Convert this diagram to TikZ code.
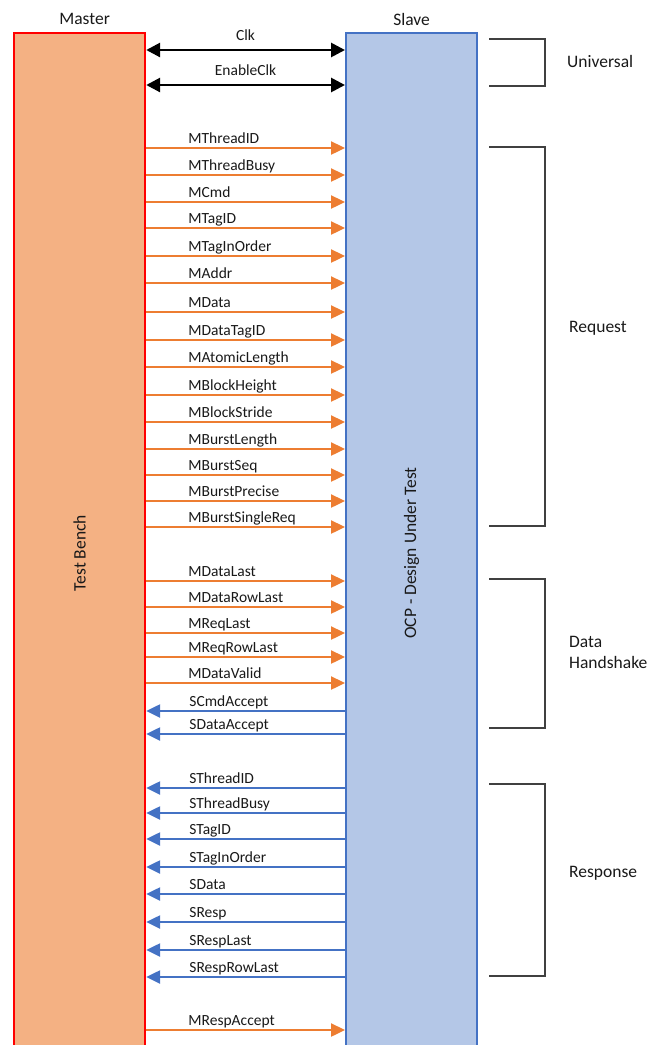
\documentclass[tikz,border=0pt]{standalone}
\usepackage{fontspec}
\setmainfont{Carlito}
\usetikzlibrary{arrows.meta,positioning,calc}
\definecolor{mfill}{HTML}{F4B183}
\definecolor{sfill}{HTML}{B4C7E7}
\definecolor{sblue}{HTML}{4472C4}
\definecolor{morange}{HTML}{ED7D31}
\definecolor{grpgray}{HTML}{404040}

\begin{document}
\begin{tikzpicture}[x=1pt, y=-1pt,
        block/.style={draw, line width=2.2pt, minimum width=131pt, minimum height=1040pt, anchor=north west, inner sep=0pt},
        clkarrow/.style={{Triangle[length=14pt,width=14pt]}-{Triangle[length=14pt,width=14pt]}, line width=2.8pt, black},
        tosl/.style={-{Triangle[length=14pt,width=13pt]}, line width=2.4pt, morange},
        toms/.style={-{Triangle[length=14pt,width=13pt]}, line width=2.4pt, sblue},
        sig/.style={anchor=base west, inner sep=0pt, text=black!90, font=\fontsize{15.5}{18}\selectfont},
        title/.style={inner sep=0pt, text=black!90, font=\fontsize{17.5}{21}\selectfont},
        grp/.style={draw=grpgray, line width=1.5pt},
        grplbl/.style={anchor=west, align=left, inner sep=0pt, text=black!90, font=\fontsize{17.5}{21}\selectfont}]

    \useasboundingbox (0,0) rectangle (650,1045);

    % master and slave
    \node[block, draw=red, fill=mfill] (master) at (13,32) {};
    \node[block, draw=sblue, fill=sfill] (slave) at (345,32) {};
    \node[title, rotate=90] (bench) at (master.center) {Test Bench};
    \node[title, rotate=90] (dut) at (slave.center) {OCP - Design Under Test};
    \node[title, above=7pt of master.north, xshift=5pt] (mtitle) {Master};
    \node[title, above=6pt of slave.north] (stitle) {Slave};

    % clocks
    \draw[clkarrow] (master.east |- 0,50) -- node[sig, anchor=base, above=8pt] (clk) {Clk} (slave.west |- 0,50);
    \draw[clkarrow] (master.east |- 0,85) -- node[sig, anchor=base, above=8pt] (enclk) {EnableClk} (slave.west |- 0,85);

    % master to slave
    \foreach \y/\n in {148/MThreadID, 175/MThreadBusy, 202/MCmd, 228/MTagID, 256/MTagInOrder, 283/MAddr,
            312/MData, 340/MDataTagID, 367/MAtomicLength, 395/MBlockHeight, 422/MBlockStride,
            449/MBurstLength, 475/MBurstSeq, 501/MBurstPrecise, 527/MBurstSingleReq,
            581/MDataLast, 607/MDataRowLast, 633/MReqLast, 657/MReqRowLast, 683/MDataValid, 1030/MRespAccept}
        \draw[tosl] (master.east |- 0,\y) -- (slave.west |- 0,\y) node[sig, pos=0, xshift=41pt, yshift=5pt] (\n) {\n};

    % slave to master
    \foreach \y/\n in {711/SCmdAccept, 734/SDataAccept, 788/SThreadID, 813/SThreadBusy, 839/STagID,
            867/STagInOrder, 894/SData, 922/SResp, 950/SRespLast, 977/SRespRowLast}
        \draw[toms] (slave.west |- 0,\y) -- (master.east |- 0,\y) node[sig, pos=1, xshift=42pt, yshift=5pt] (\n) {\n};

    % groups
    \foreach \t/\b in {39/86, 147/526, 579/728, 784/976}
        \draw[grp] (489,\t) -| (545,\b) -- (489,\b);
    \node[grplbl] (universal) at (567,61) {Universal};
    \node[grplbl] (request) at (569,328) {Request};
    \node[grplbl] (handshake) at (569,652) {Data\\Handshake};
    \node[grplbl] (response) at (569,873) {Response};
\end{tikzpicture}
\end{document}
